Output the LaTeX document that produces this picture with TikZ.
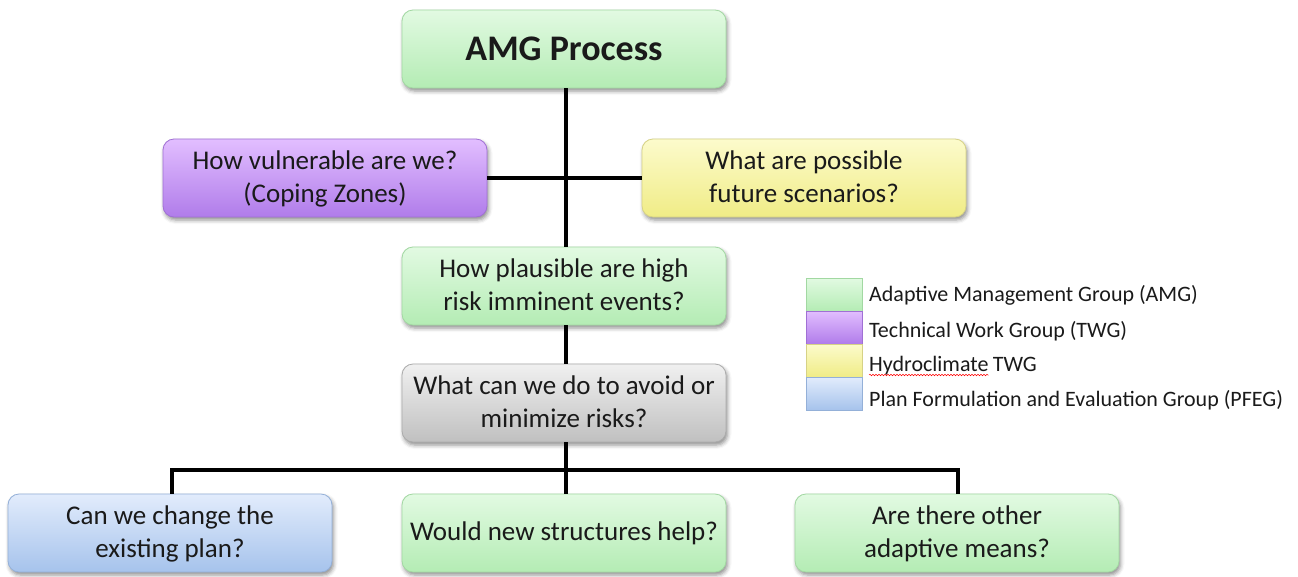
\documentclass[tikz,border=0pt]{standalone}
\usepackage{fontspec}
\setmainfont{Carlito}
\usetikzlibrary{shadows.blur,decorations.pathmorphing,calc}

\definecolor{txt}{HTML}{1A1A1A}
\definecolor{grnT}{HTML}{E2FAE2}
\definecolor{grnB}{HTML}{B4ECB4}
\definecolor{grnD}{HTML}{A2D8A2}
\definecolor{purT}{HTML}{E2BEFF}
\definecolor{purB}{HTML}{B07CEA}
\definecolor{purD}{HTML}{A070D4}
\definecolor{yelT}{HTML}{FCFBCC}
\definecolor{yelB}{HTML}{F0EC86}
\definecolor{yelD}{HTML}{D6D286}
\definecolor{gryT}{HTML}{F0F0F0}
\definecolor{gryB}{HTML}{C0C0C0}
\definecolor{gryD}{HTML}{ABABAB}
\definecolor{bluT}{HTML}{E2ECFC}
\definecolor{bluB}{HTML}{A6C3EC}
\definecolor{bluD}{HTML}{94B0D8}

\begin{document}
\begin{tikzpicture}[x=1pt,y=-1pt,
  qbox/.style={rounded corners=11pt, minimum width=324pt, minimum height=78pt,
    align=center, inner sep=0pt, text=txt, line width=0.8pt,
    font=\fontsize{27}{33}\selectfont,
    blur shadow={shadow xshift=1.5pt, shadow yshift=-3pt, shadow blur radius=4pt, shadow opacity=45}},
  amg/.style={top color=grnT, bottom color=grnB, draw=grnD},
  twg/.style={top color=purT, bottom color=purB, draw=purD},
  hyd/.style={top color=yelT, bottom color=yelB, draw=yelD},
  neu/.style={top color=gryT, bottom color=gryB, draw=gryD},
  pfe/.style={top color=bluT, bottom color=bluB, draw=bluD},
  swatch/.style={minimum width=56pt, minimum height=33pt, inner sep=0pt, line width=0.6pt},
  ltext/.style={anchor=base west, inner sep=0pt, text=txt, font=\fontsize{22}{26}\selectfont},
  conn/.style={line width=3.5pt, black}]
\useasboundingbox (0,0) rectangle (1298,576);

% question boxes (text held slightly low, as in the boxes' bevelled face)
\node[qbox, amg, font=\fontsize{36}{42}\selectfont\bfseries] (proc) at (564,49) {AMG Process};
\node[qbox, twg, text depth=2pt] (vul) at (325,178) {How vulnerable are we?\\(Coping Zones)};
\node[qbox, hyd, text depth=2pt] (fut) at (804,178) {What are possible\\future scenarios?};
\node[qbox, amg, text depth=2pt] (plaus) at (564,286) {How plausible are high\\risk imminent events?};
\node[qbox, neu, text depth=2pt] (avoid) at (564,403) {What can we do to avoid or\\minimize risks?};
\node[qbox, pfe, text depth=2pt] (plan) at (170,533) {Can we change the\\existing plan?};
\node[qbox, amg] (struct) at (564,533) {Would new structures help?};
\node[qbox, amg, text depth=2pt] (means) at (957,533) {Are there other\\adaptive means?};

% connectors
\coordinate (bus) at (566,470);
\draw[conn] (proc.south -| 566,0) -- (plaus.north -| 566,0);
\draw[conn] (vul.east) -- (fut.west);
\draw[conn] (plaus.south -| 566,0) -- (avoid.north -| 566,0);
\draw[conn] (avoid.south -| 566,0) -- (struct.north -| 566,0);
\draw[conn] (plan.north -| 172,0) |- (bus) -| (means.north -| 958,0);

% legend
\begin{scope}[blur shadow={shadow xshift=1.5pt, shadow yshift=-3pt, shadow blur radius=3pt, shadow opacity=40}]
\fill[white] (806,278) rectangle (862,410);
\end{scope}
\node[swatch, amg] (sw1) at (834,294.5) {};
\node[swatch, twg] (sw2) at (834,327.5) {};
\node[swatch, hyd] (sw3) at (834,360.5) {};
\node[swatch, pfe] (sw4) at (834,393.5) {};
\node[ltext] (lg1) at (869,301) {Adaptive Management Group (AMG)};
\node[ltext] (lg2) at (869,337) {Technical Work Group (TWG)};
\node[ltext] (lg3) at (869,371) {Hydroclimate};
\node[ltext] (lg3b) at ($(lg3.base east)+(4,0)$) {TWG};
\node[ltext] (lg4) at (869,406) {Plan Formulation and Evaluation Group (PFEG)};
\draw[red, line width=0.5pt, decorate, decoration={snake, amplitude=0.7pt, segment length=3pt}]
  ($(lg3.base west)+(0,4)$) -- ($(lg3.base east)+(0,4)$);
\end{tikzpicture}
\end{document}
